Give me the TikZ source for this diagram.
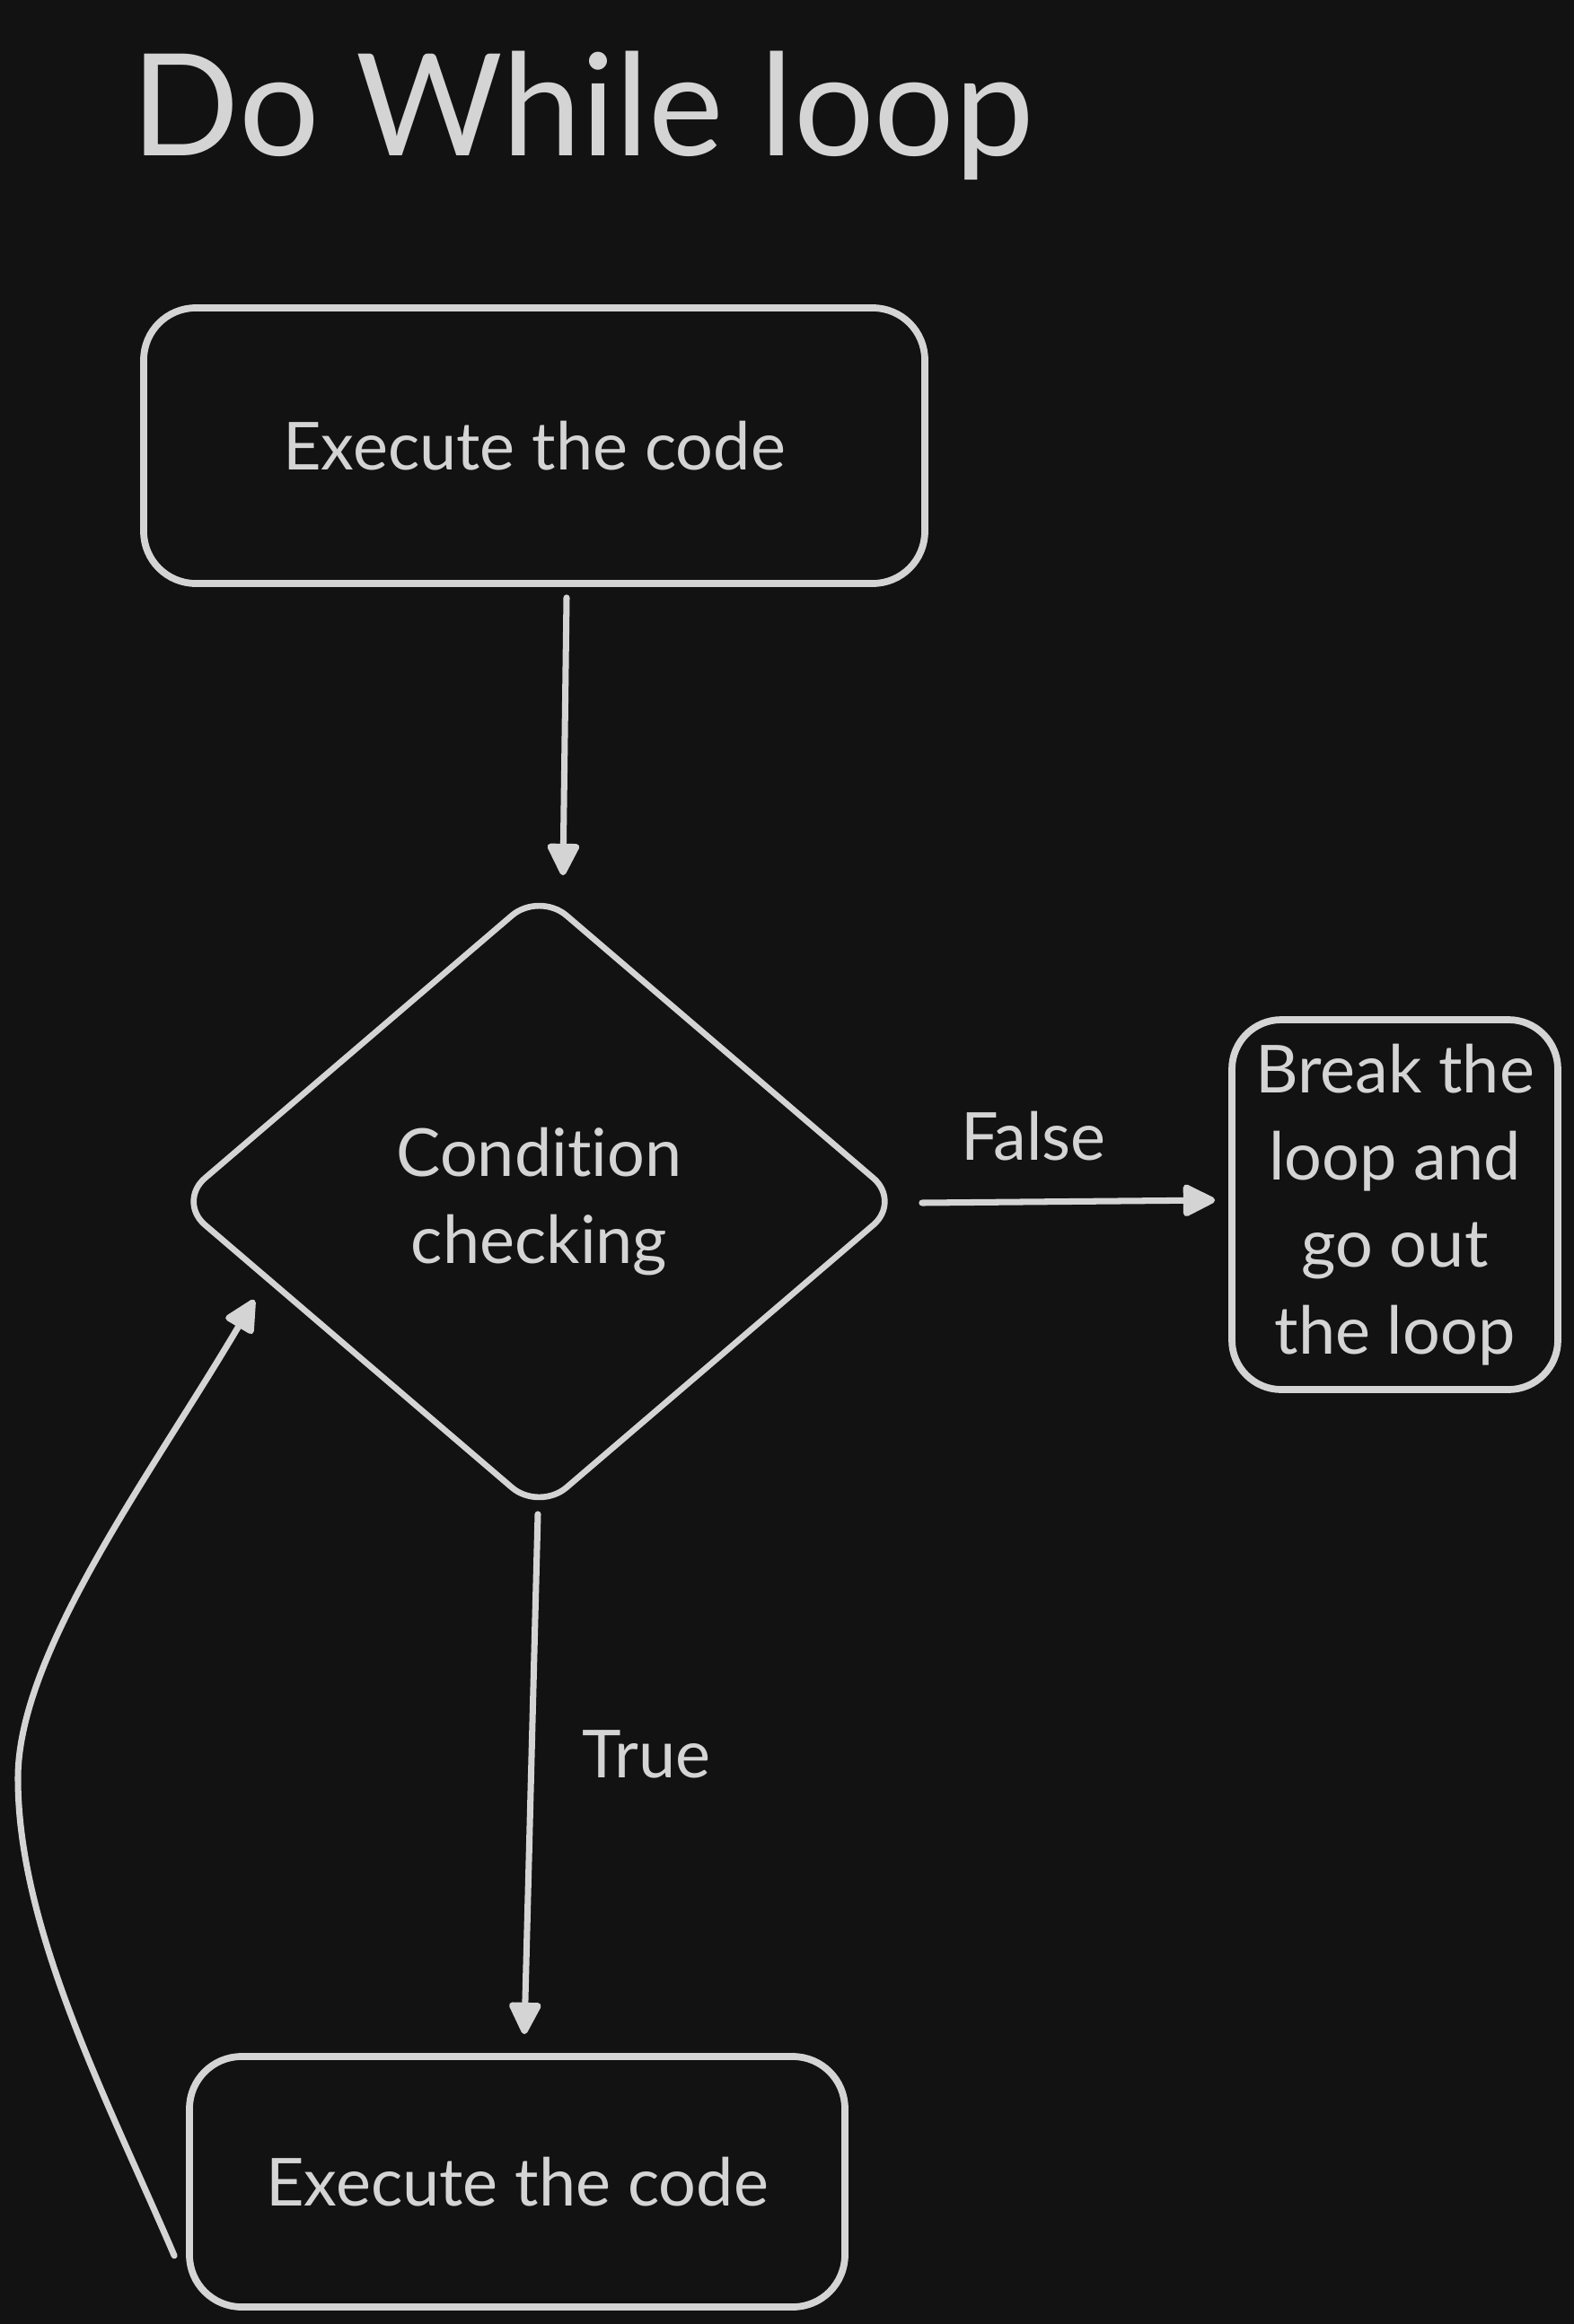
\documentclass[tikz,border=0pt]{standalone}
\usepackage{fontspec}
\setmainfont{Lato}[Ligatures=NoCommon]
\usetikzlibrary{arrows.meta,shapes.geometric}
\definecolor{bgc}{HTML}{121212}
\definecolor{fgc}{HTML}{D4D4D4}
\begin{document}
\begin{tikzpicture}[
  every node/.style={text=fgc},
  boxstyle/.style={draw=fgc, line width=2.2pt, rounded corners=0.58cm, inner sep=0pt,
     font=\fontsize{21}{27.6}\selectfont, align=center},
  diastyle/.style={diamond, draw=fgc, line width=1.9pt, rounded corners=0.4cm, inner sep=0pt,
     font=\fontsize{21}{27.6}\selectfont, align=center},
  lbl/.style={font=\fontsize{21}{25}\selectfont},
  arr/.style={draw=fgc, line width=2.0pt, line cap=round, line join=round,
     -{Triangle[length=0.40cm,width=0.38cm,round]}}
]
\fill[bgc] (0,0) rectangle (17.53,-25.89);
\useasboundingbox (0,0) rectangle (17.53,-25.89);

\node[anchor=base west, font=\fontsize{45}{50}\selectfont, inner sep=0pt] (title) at (1.46,-1.73) {Do While loop};

\node[boxstyle, minimum width=8.70cm, minimum height=3.07cm] (top) at (5.95,-4.965) {Execute the code};
\node[diastyle, minimum width=8.08cm, minimum height=6.92cm] (dia) at (6.005,-13.385) {Condition\\checking};
\node[boxstyle, rounded corners=0.55cm, minimum width=3.63cm, minimum height=4.12cm] (brk) at (15.535,-13.42) {Break the\\loop and\\go out\\the loop};
\node[boxstyle, minimum width=7.30cm, minimum height=2.79cm] (bot) at (5.76,-24.305) {Execute the code};

\node[lbl] (flbl) at (11.51,-12.66) {False};
\node[lbl] (tlbl) at (7.20,-19.54) {True};

\draw[arr] ([shift={(0.36,-0.12)}]top.south) -- ([shift={(0.265,0.14)}]dia.north);
\draw[arr] ([shift={(0.19,-0.015)}]dia.east) -- ([shift={(-0.15,0.05)}]brk.west);
\draw[arr] ([shift={(-0.015,0.01)}]dia.south) -- ([shift={(0.08,0.21)}]bot.north);

\coordinate (ls) at ([shift={(-0.13,0.61)}]bot.south west);
\coordinate (le) at ([shift={(0.90,-1.095)}]dia.west);
\draw[arr] (ls) .. controls (1.20,-23.40) and (0.20,-21.50) .. (0.20,-19.81)
   .. controls (0.20,-18.40) and (1.70,-16.40) .. (le);
\end{tikzpicture}
\end{document}
